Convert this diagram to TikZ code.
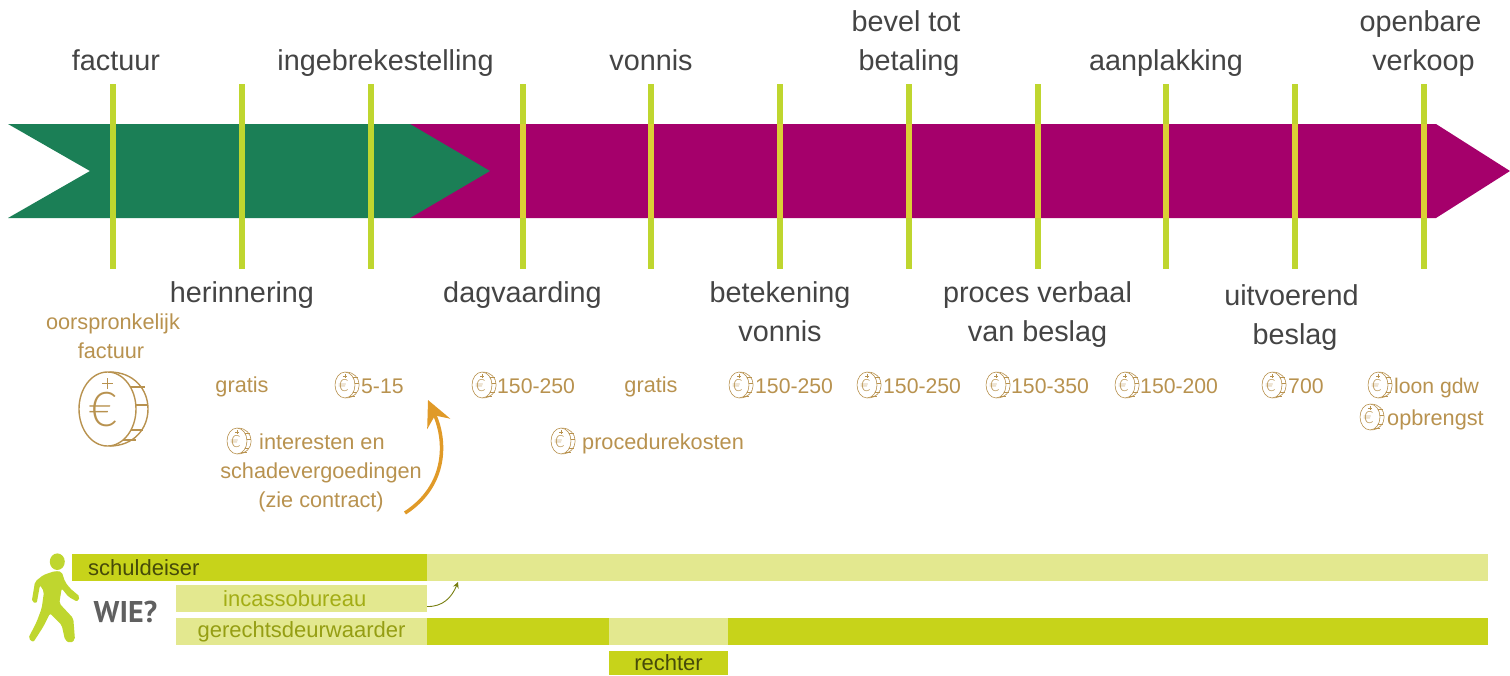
\documentclass[tikz,border=0pt]{standalone}
\usepackage{xcolor}
\usepackage{fontspec}
\setmainfont{Liberation Sans}
\newfontfamily\wiefont{PT Sans}
\newfontfamily\eurofont{Lato Light}
\usetikzlibrary{arrows.meta,positioning}
\definecolor{bandgreen}{HTML}{1B7F56}
\definecolor{bandred}{HTML}{A5006B}
\definecolor{tickcol}{HTML}{BFD62F}
\definecolor{tickyellow}{HTML}{DBCF35}
\definecolor{limedark}{HTML}{C7D31A}
\definecolor{limelight}{HTML}{E3E88F}
\definecolor{labelcol}{HTML}{444444}
\definecolor{tancol}{HTML}{B8924F}
\definecolor{orangecol}{HTML}{E09A28}

\begin{document}
\begin{tikzpicture}[
x=1pt, y=-1pt,
tick/.style={fill=tickcol, minimum width=6pt, minimum height=185pt, inner sep=0pt},
toplabel/.style={font=\fontsize{28.8}{39}\selectfont, text=labelcol, align=center, inner sep=0pt, text depth=7pt, above=6pt of #1},
botlabel/.style={font=\fontsize{28.8}{39}\selectfont, text=labelcol, align=center, inner sep=0pt, text height=22pt, below=11pt of #1},
tan/.style={font=\fontsize{21.7}{29}\selectfont, text=tancol, align=center, inner sep=0pt, text height=16pt, text depth=5pt},
cost/.style={tan, anchor=west},
bedrag/.style={cost, font=\fontsize{21.2}{29}\selectfont},
bar/.style={minimum height=27pt, inner sep=0pt, outer sep=0pt, anchor=west, font=\fontsize{22}{26}\selectfont},
bartext/.style={font=\fontsize{22}{26}\selectfont, inner sep=0pt},
minicoin/.style={scale=.35, line width=.6pt},
pics/coin/.style={code={
  \draw[tancol] (0,0) ellipse (28.5 and 37);
  \draw[tancol] (2,-37) .. controls (26,-37) and (40.5,-20) .. (40.5,0) .. controls (40.5,20) and (26,37) .. (2,37);
  \draw[tancol] (22.9,-22) -- (37,-22) (28.3,-4) -- (40.4,-4) (23.4,21) -- (35.7,21) (15.5,31) -- (28,31);
  \draw[tancol] (0,-31) -- (0,-20) (-5.5,-25.5) -- (5.5,-25.5);
  \node[transform shape, text=tancol, inner sep=0pt, font=\eurofont\fontsize{48}{48}\selectfont] (-euro) at (-4,1) {€};
}}
]
\useasboundingbox (0,0) rectangle (1510,675);

% band
\fill[bandred] (410,124) -- (1436,124) -- (1510,171) -- (1436,218) -- (410,218) -- cycle;
\fill[bandgreen] (8,124) -- (410,124) -- (490,171) -- (410,218) -- (8,218) -- (90,171) -- cycle;

\node[tick] (tfactuur) at (113,176.5) {};
\node[tick] (therinnering) at (242,176.5) {};
\node[tick] (tingebreke) at (370.5,176.5) {};
\node[tick] (tdagvaarding) at (522.5,176.5) {};
\node[tick] (tvonnis) at (651,176.5) {};
\node[tick] (tbetekening) at (780,176.5) {};
\node[tick] (tbevel) at (909,176.5) {};
\node[tick] (tproces) at (1037.5,176.5) {};
\node[tick] (taanplakking) at (1166,176.5) {};
\node[tick] (tuitvoerend) at (1295,176.5) {};
\node[tick] (tverkoop) at (1423.5,176.5) {};
\foreach \x in {522.5,651,780,909,1037.5,1166,1295,1423.5}
  \fill[tickyellow] (\x-3,124) rectangle (\x+3,218);

\node[toplabel=tfactuur, xshift=3pt] (factuur) {factuur};
\node[toplabel=tingebreke, xshift=15pt] (ingebreke) {ingebrekestelling};
\node[toplabel=tvonnis] (vonnis) {vonnis};
\node[toplabel=tbevel] (bevel) {bevel tot\hspace*{6pt}\\betaling};
\node[toplabel=taanplakking] (aanplakking) {aanplakking};
\node[toplabel=tverkoop] (verkoop) {openbare\hspace*{6pt}\\verkoop};
\node[botlabel=therinnering] (herinnering) {herinnering};
\node[botlabel=tdagvaarding] (dagvaarding) {dagvaarding};
\node[botlabel=tbetekening, text height=61pt] (betekening) {betekening\\vonnis};
\node[botlabel=tproces, text height=61pt] (proces) {proces verbaal\\van beslag};
\node[botlabel=tuitvoerend, text height=61pt, yshift=-3pt] (uitvoerend) {uitvoerend\hspace*{7pt}\\beslag};

% kosten
\node[tan, text height=45pt] (oorspronkelijk) at (113,338) {oorspronkelijk\\factuur\hspace*{4pt}};
\pic[line width=1.4pt] at (107.5,409) {coin};
\node[tan] (gratisa) at (242,387) {gratis};
\node[bedrag] (kosta) at (361,387.5) {5-15};
\pic[minicoin] at (345,385) {coin};
\node[bedrag] (kostb) at (497,387.5) {150-250};
\pic[minicoin] at (482,385) {coin};
\node[tan] (gratisb) at (651,387) {gratis};
\node[bedrag] (kostc) at (755,387.5) {150-250};
\pic[minicoin] at (739,385) {coin};
\node[bedrag] (kostd) at (883,387.5) {150-250};
\pic[minicoin] at (867,385) {coin};
\node[bedrag] (koste) at (1011,387.5) {150-350};
\pic[minicoin] at (996,385) {coin};
\node[bedrag] (kostf) at (1140,387.5) {150-200};
\pic[minicoin] at (1125,385) {coin};
\node[bedrag] (kostg) at (1288,387.5) {700};
\pic[minicoin] at (1272,385) {coin};
\node[bedrag] (loon) at (1394,387.5) {loon gdw};
\pic[minicoin] at (1378,385) {coin};
\node[cost] (opbrengst) at (1387,419.5) {opbrengst};
\pic[minicoin] at (1370,417) {coin};
\node[cost] (interesten) at (259,443.5) {interesten en};
\pic[minicoin] at (237,441) {coin};
\node[tan, text height=45pt] (schade) at (321,487) {schadevergoedingen\\(zie contract)};
\node[cost] (procedure) at (582,443.5) {procedurekosten};
\pic[minicoin] at (561,441) {coin};

\coordinate (omhoogvan) at (405,513);
\coordinate (omhoognaar) at (428,400);
\draw[orangecol, line width=3.5pt, -{Stealth[length=26pt,width=25pt,inset=9pt]}] (omhoogvan) .. controls (448,485) and (446,440) .. (omhoognaar);

% wie
\fill[tickcol] (57.3,561.7) ellipse (7.5 and 8.3);
\fill[tickcol, rounded corners=2pt] (55,571) -- (61.7,571.7) -- (65,581.7) -- (70,588.3) -- (80,596.7) -- (77.3,601.7) -- (68.3,596.7) -- (61.7,588.3) -- (59.3,603.3) -- (73.3,618.3) -- (75,640) -- (70,643.3) -- (65,640) -- (61.7,625) -- (50,613.3) -- (43.3,626.7) -- (33.3,642.3) -- (28.3,638.3) -- (36.7,621.7) -- (41.7,608.3) -- (44,591.7) -- (40,585) -- (36.7,603.3) -- (31.7,601.7) -- (35,581.7) -- (43.3,575) -- cycle;
\node[font=\wiefont\bfseries\fontsize{30}{30}\selectfont, text=labelcol!85, inner sep=0pt] (wie) at (125.5,612) {WIE?};

\node[bar, fill=limedark, minimum width=355pt] (schuldeiser) at (72,567.5) {};
\node[bar, fill=limelight, right=0pt of schuldeiser, minimum width=1061pt] (schuldeiserrest) {};
\node[bartext, text=black!65!limedark, right=16pt of schuldeiser.west] (schuldeisertext) {schuldeiser};
\node[bar, fill=limelight, minimum width=251pt] (incasso) at (176,598.5) {};
\node[bartext, text=black!18!limedark, right=47pt of incasso.west] (incassotext) {incassobureau};
\node[bar, fill=limelight, minimum width=251pt, text=black!25!limedark] (gerechts) at (176,631.5) {gerechtsdeurwaarder};
\node[bar, fill=limedark, right=0pt of gerechts, minimum width=182pt] (gerechtsa) {};
\node[bar, fill=limelight, right=0pt of gerechtsa, minimum width=119pt] (gerechtsb) {};
\node[bar, fill=limedark, right=0pt of gerechtsb, minimum width=760pt] (gerechtsc) {};
\node[bar, fill=limedark, minimum width=119pt, minimum height=24pt, text=black!65!limedark] (rechter) at (609,663) {rechter};

\coordinate (schuldeiserpijl) at (458,582);
\draw[black!40!limedark, line width=.9pt, -{Stealth[length=6pt,width=6pt]}] (incasso.east) ++(0,8) .. controls (443,607) and (452,597) .. (schuldeiserpijl);
\end{tikzpicture}
\end{document}
